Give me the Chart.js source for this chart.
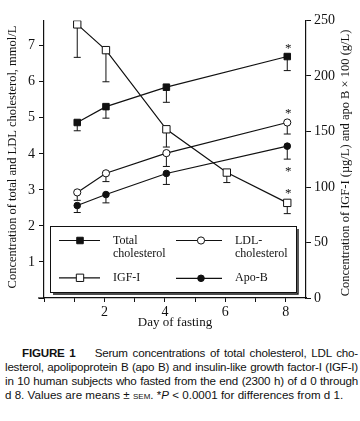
<!DOCTYPE html>
<html>
<head>
<meta charset="utf-8">
<script src="https://cdn.jsdelivr.net/npm/chart.js@4"></script>
<style>
  html, body { margin: 0; padding: 0; background: #fff; }
  #wrap { position: relative; width: 360px; height: 421px; }
  #chartBox { position: absolute; left: 0; top: 0; width: 360px; height: 340px; }
  #cap {
    position: absolute; left: 5px; top: 346px; width: 353px;
    font-family: "Liberation Sans", Arial, sans-serif; font-size: 11.6px;
    line-height: 14px; color: #111;
  }
  #cap .l { text-align: justify; text-align-last: justify; white-space: nowrap; }
  #cap .tight { letter-spacing: -0.2px; }
  #cap .first { padding-left: 17px; }
  .sc { font-variant: small-caps; }
</style>
</head>
<body>
<div id="wrap">
  <div id="chartBox"><canvas id="fig"></canvas></div>
  <div id="cap">
    <div class="l first tight"><b>FIGURE 1</b>&nbsp;&nbsp;&nbsp; Serum concentrations of total cholesterol, LDL cho-</div>
    <div class="l tight">lesterol, apolipoprotein B (apo B) and insulin-like growth factor-I (IGF-I)</div>
    <div class="l tight">in 10 human subjects who fasted from the end (2300 h) of d 0 through</div>
    <div>d 8. Values are means ± <span class="sc">sem</span>. *<i>P</i> &lt; 0.0001 for differences from d 1.</div>
  </div>
</div>
<script>
// days (x positions as plotted)
const days = [1.1, 2.05, 4.05, 8.05];
const igfDays = [1.1, 2.05, 4.05, 6.05, 8.05];

// total cholesterol, mmol/L (left axis) and lower SEM ends
const totalChol = [4.87, 5.31, 5.85, 6.70];
const totalCholLow = [4.64, 4.99, 5.43, 6.31];

// LDL cholesterol, mmol/L (left axis)
const ldlChol = [2.93, 3.46, 4.02, 4.87];
const ldlCholLow = [2.71, 3.23, 3.65, 4.55];

// IGF-I, ug/L (right axis)
const igf = [246.5, 223.3, 152, 113, 85.7];
const igfLow = [216.8, 194.8, 136, 104, 76];

// apo B x 100, g/L (right axis)
const apoB = [83.3, 93.2, 112.2, 136.8];
const apoBLow = [77.0, 85.7, 102.3, 125.1];

const xTicks = [0, 1, 2, 3, 4, 5, 6, 7, 8];
const xLabels = ['', '', '2', '', '4', '', '6', '', '8'];
const leftTicks = [0, 1, 2, 3, 4, 5, 6, 7];
const leftLabels = ['', '1', '2', '3', '4', '5', '6', '7'];
const rightTicks = [0, 50, 100, 150, 200, 250];

const ink = '#111';
const serif = '"Liberation Serif", "Times New Roman", serif';

function pts(xs, ys) {
    return xs.map((x, i) => ({ x: x, y: ys[i] }));
}

const datasets = [
    {
        label: 'Total cholesterol',
        data: pts(days, totalChol),
        low: totalCholLow,
        yAxisID: 'y',
        pointStyle: 'rect',
        pointRadius: 4.6,
        backgroundColor: ink,
        star: -10
    },
    {
        label: 'LDL-cholesterol',
        data: pts(days, ldlChol),
        low: ldlCholLow,
        yAxisID: 'y',
        pointStyle: 'circle',
        pointRadius: 3.6,
        backgroundColor: '#fff',
        star: -11
    },
    {
        label: 'IGF-I',
        data: pts(igfDays, igf),
        low: igfLow,
        yAxisID: 'y2',
        pointStyle: 'rect',
        pointRadius: 5.2,
        backgroundColor: '#fff',
        star: -11
    },
    {
        label: 'Apo-B',
        data: pts(days, apoB),
        low: apoBLow,
        yAxisID: 'y2',
        pointStyle: 'circle',
        pointRadius: 3.3,
        backgroundColor: ink,
        star: 'below'
    }
].map(d => Object.assign(d, {
    borderColor: ink,
    borderWidth: 1.2,
    pointBorderColor: ink,
    pointBackgroundColor: d.backgroundColor,
    pointBorderWidth: 1,
    pointHoverRadius: d.pointRadius,
    tension: 0,
    fill: false
}));

// lower whiskers with caps
const errorBars = {
    id: 'errorBars',
    beforeDatasetsDraw(chart) {
        const ctx = chart.ctx;
        const xs = chart.scales.x;
        ctx.save();
        ctx.strokeStyle = ink;
        ctx.lineWidth = 1;
        chart.data.datasets.forEach(ds => {
            const ys = chart.scales[ds.yAxisID];
            ds.data.forEach((p, i) => {
                const px = xs.getPixelForValue(p.x);
                const py = ys.getPixelForValue(p.y);
                const pl = ys.getPixelForValue(ds.low[i]);
                ctx.beginPath();
                ctx.moveTo(px, py);
                ctx.lineTo(px, pl);
                ctx.moveTo(px - 3.5, pl);
                ctx.lineTo(px + 3.5, pl);
                ctx.stroke();
            });
        });
        ctx.restore();
    }
};

function marker(ctx, style, fill, x, y, r) {
    ctx.beginPath();
    if (style === 'rect') {
        const s = Math.SQRT1_2 * r;
        ctx.rect(x - s, y - s, 2 * s, 2 * s);
    } else {
        ctx.arc(x, y, r, 0, Math.PI * 2);
    }
    ctx.fillStyle = fill;
    ctx.fill();
    ctx.stroke();
}

// titles, asterisks and the boxed legend
const decorations = {
    id: 'decorations',
    afterDraw(chart) {
        const ctx = chart.ctx;
        const xs = chart.scales.x;
        const area = chart.chartArea;
        ctx.save();
        ctx.fillStyle = ink;
        ctx.strokeStyle = ink;

        // x axis runs a little past the left axis
        ctx.lineWidth = 1.2;
        ctx.beginPath();
        ctx.moveTo(area.left - 6, area.bottom);
        ctx.lineTo(area.left, area.bottom);
        ctx.stroke();

        // asterisks on day 8
        ctx.font = '13px ' + serif;
        ctx.textAlign = 'center';
        ctx.textBaseline = 'middle';
        chart.data.datasets.forEach(ds => {
            const ys = chart.scales[ds.yAxisID];
            const i = ds.data.length - 1;
            const px = xs.getPixelForValue(ds.data[i].x);
            let py;
            if (ds.star === 'below') {
                py = ys.getPixelForValue(ds.low[i]) + 10;
            } else {
                py = ys.getPixelForValue(ds.data[i].y) + ds.star;
            }
            ctx.fillText('*', px + 1, py + 2);
        });

        // axis titles
        ctx.font = '12.5px ' + serif;
        ctx.textBaseline = 'middle';
        ctx.save();
        ctx.translate(13, 157);
        ctx.rotate(-Math.PI / 2);
        ctx.fillText('Concentration of total and LDL cholesterol, mmol/L', 0, 0);
        ctx.restore();
        ctx.save();
        ctx.translate(346, 163);
        ctx.rotate(-Math.PI / 2);
        ctx.fillText('Concentration of IGF-I (\u00b5g/L) and apo B \u00d7 100 (g/L)', 0, 0);
        ctx.restore();
        ctx.font = '13px ' + serif;
        ctx.fillText('Day of fasting', (area.left + area.right) / 2, 323);

        // legend box
        const bx = 50, by = 226, bw = 246, bh = 66;
        ctx.fillStyle = '#fff';
        ctx.fillRect(bx, by, bw, bh);
        ctx.lineWidth = 1;
        ctx.strokeRect(bx + 0.5, by + 0.5, bw, bh);
        ctx.lineWidth = 1.4;
        ctx.beginPath();
        ctx.moveTo(bx + 3, by + bh + 2);
        ctx.lineTo(bx + bw + 2, by + bh + 2);
        ctx.lineTo(bx + bw + 2, by + 3);
        ctx.stroke();

        const slots = [
            { x0: 59, x1: 100, mx: 80, y: 240.5, tx: 113, lines: ['Total', 'cholesterol'] },
            { x0: 176, x1: 222, mx: 201, y: 240.5, tx: 235, lines: ['LDL-', 'cholesterol'] },
            { x0: 59, x1: 100, mx: 80, y: 277.8, tx: 113, lines: ['IGF-I'] },
            { x0: 176, x1: 222, mx: 201, y: 278.3, tx: 235, lines: ['Apo-B'] }
        ];
        ctx.font = '12px ' + serif;
        ctx.textAlign = 'left';
        chart.data.datasets.forEach((ds, k) => {
            const s = slots[k];
            ctx.strokeStyle = ink;
            ctx.lineWidth = 1.2;
            ctx.beginPath();
            ctx.moveTo(s.x0, s.y);
            ctx.lineTo(s.x1, s.y);
            ctx.stroke();
            ctx.lineWidth = 1;
            marker(ctx, ds.pointStyle, ds.pointBackgroundColor, s.mx, s.y, ds.pointRadius);
            ctx.fillStyle = ink;
            s.lines.forEach((t, j) => ctx.fillText(t, s.tx, s.y + j * 13.5));
        });
        ctx.restore();
    }
};

const axisGrid = {
    drawOnChartArea: false,
    drawTicks: true,
    tickLength: 5,
    color: ink,
    lineWidth: 1
};
const axisBorder = { display: true, color: ink, width: 1.2 };

new Chart(document.getElementById('fig'), {
    type: 'line',
    data: { datasets: datasets },
    options: {
        responsive: true,
        maintainAspectRatio: false,
        animation: false,
        layout: { padding: { top: 20.5, left: 0, right: 0, bottom: 0 } },
        plugins: {
            legend: { display: false },
            tooltip: { enabled: false }
        },
        scales: {
            x: {
                type: 'linear',
                min: 0,
                max: 8.67,
                afterBuildTicks: s => { s.ticks = xTicks.map(v => ({ value: v })); },
                afterFit: s => { s.height = 42; },
                ticks: {
                    autoSkip: false,
                    maxRotation: 0,
                    color: ink,
                    padding: 2,
                    font: { family: serif, size: 14 },
                    callback: (v, i) => xLabels[i]
                },
                grid: Object.assign({}, axisGrid, { tickLength: 4 }),
                border: axisBorder
            },
            y: {
                position: 'left',
                min: 0,
                max: 7.7,
                afterBuildTicks: s => { s.ticks = leftTicks.map(v => ({ value: v })); },
                afterFit: s => { s.width = 44; },
                ticks: {
                    autoSkip: false,
                    color: ink,
                    padding: 4,
                    font: { family: serif, size: 14 },
                    callback: (v, i) => leftLabels[i]
                },
                grid: axisGrid,
                border: axisBorder
            },
            y2: {
                position: 'right',
                min: 0,
                max: 250,
                afterBuildTicks: s => { s.ticks = rightTicks.map(v => ({ value: v })); },
                afterFit: s => { s.width = 54; },
                ticks: {
                    autoSkip: false,
                    color: ink,
                    padding: 3,
                    font: { family: serif, size: 14 }
                },
                grid: axisGrid,
                border: axisBorder
            }
        }
    },
    plugins: [errorBars, decorations]
});
</script>
</body>
</html>
